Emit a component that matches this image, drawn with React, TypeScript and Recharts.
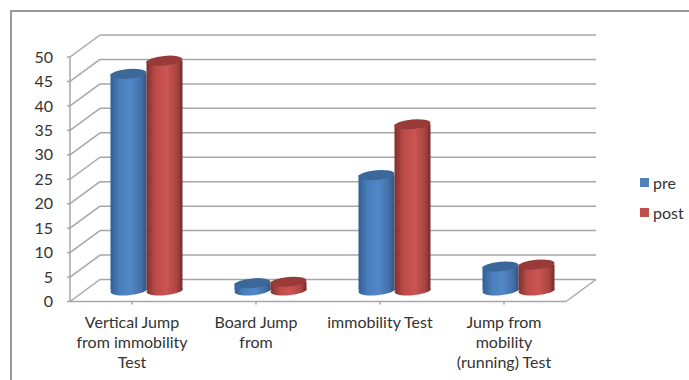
import { BarChart, Bar, XAxis, YAxis, CartesianGrid, Legend } from 'recharts';

const categories = ['Vertical Jump from immobility Test', 'Board Jump from', 'immobility Test', 'Jump from mobility (running) Test'];
const categoryLines = [
  ['Vertical Jump', 'from immobility', 'Test'],
  ['Board Jump', 'from'],
  ['immobility Test'],
  ['Jump from', 'mobility', '(running) Test'],
];
const preValues = [44.3, 1.5, 23.6, 4.9];
const postValues = [47, 1.8, 34, 5.3];
const yTicks = [0, 5, 10, 15, 20, 25, 30, 35, 40, 45, 50];

const rows = categories.map((name, i) => ({ name, pre: preValues[i], post: postValues[i] }));

const FONT = 'Lato, sans-serif';
const TEXT = '#333333';
const LINE = '#a6a6a6';
// depth of the fake 3D floor
const DEPTH_X = 30;
const DEPTH_Y = 22;

// side wall diagonal + back wall line for each value
function WallLine(props: any) {
  const { x1, x2, y1 } = props;
  return (
    <g fill="none" stroke={LINE} strokeWidth={1.5}>
      <line x1={x1} y1={y1} x2={x1 + DEPTH_X} y2={y1 - DEPTH_Y} />
      <line x1={x1 + DEPTH_X} y1={y1 - DEPTH_Y} x2={x2 + DEPTH_X} y2={y1 - DEPTH_Y} />
      {y1 > 295 && <line x1={x2} y1={y1} x2={x2 + DEPTH_X} y2={y1 - DEPTH_Y} />}
    </g>
  );
}

function Cylinder(props: any) {
  const { x, y, width, height, gradient, cap } = props;
  const cx = x + width / 2 + DEPTH_X / 2 - 0.5;
  const top = y - DEPTH_Y / 2;
  const bottom = top + height;
  const rx = width / 2;
  const ry = 4.8;
  return (
    <g>
      <ellipse cx={cx} cy={bottom} rx={rx} ry={ry} fill={`url(#${gradient})`} transform={`rotate(-5 ${cx} ${bottom})`} />
      <rect x={cx - rx} y={top} width={width} height={height} fill={`url(#${gradient})`} />
      <ellipse cx={cx} cy={top} rx={rx} ry={ry} fill={cap} transform={`rotate(-5 ${cx} ${top})`} />
    </g>
  );
}

function CategoryTick(props: any) {
  const { x, index } = props;
  return (
    <text x={x} textAnchor="middle" fontFamily={FONT} fontSize={16} fill={TEXT}>
      {categoryLines[index].map((line, i) => (
        <tspan key={line} x={x} y={328 + i * 20}>{line}</tspan>
      ))}
    </text>
  );
}

function LegendList() {
  const items = [['pre', '#4f81bd'], ['post', '#c0504d']];
  return (
    <div style={{ fontFamily: FONT, fontSize: 16, color: TEXT }}>
      {items.map(([label, color]) => (
        <div key={label} style={{ display: 'flex', alignItems: 'center', height: 20, marginBottom: 10 }}>
          <span style={{ width: 9, height: 9, background: color, marginRight: 4 }} />
          {label}
        </div>
      ))}
    </div>
  );
}

export default function App() {
  return (
    <div style={{ position: 'absolute', left: 0, top: 0, width: 689, height: 380, background: '#fff' }}>
      <div style={{ position: 'absolute', left: 10, top: 10, width: 679, height: 370, borderTop: '2px solid #999999', borderLeft: '2px solid #999999' }} />
      <BarChart
        width={689}
        height={380}
        data={rows}
        margin={{ top: 57, right: 74, bottom: 48.5, left: 0 }}
        barGap={0}
        barSize={36}
      >
        <defs>
          <linearGradient id="preBody" x1="0" y1="0" x2="1" y2="0">
            <stop offset="0" stopColor="#2f5f96" />
            <stop offset="0.25" stopColor="#4a7dba" />
            <stop offset="0.55" stopColor="#5288c9" />
            <stop offset="0.85" stopColor="#436fa6" />
            <stop offset="1" stopColor="#2f5685" />
          </linearGradient>
          <linearGradient id="postBody" x1="0" y1="0" x2="1" y2="0">
            <stop offset="0" stopColor="#7f2f2d" />
            <stop offset="0.25" stopColor="#bb4c49" />
            <stop offset="0.55" stopColor="#cc5552" />
            <stop offset="0.85" stopColor="#a94441" />
            <stop offset="1" stopColor="#752c2a" />
          </linearGradient>
        </defs>
        <CartesianGrid vertical={false} horizontal={(p: any) => <WallLine key={p.index} {...p} />} />
        <XAxis
          dataKey="name"
          interval={0}
          stroke={LINE}
          strokeWidth={1.5}
          tickSize={3}
          tick={(p: any) => <CategoryTick {...p} />}
        />
        <YAxis
          domain={[0, 50]}
          ticks={yTicks}
          interval={0}
          width={70}
          stroke={LINE}
          strokeWidth={1.5}
          tickSize={3}
          tickMargin={14}
          tick={{ fontFamily: FONT, fontSize: 16, fill: TEXT }}
        />
        <Legend layout="vertical" align="right" verticalAlign="top" wrapperStyle={{ left: 640, top: 172, width: 49 }} content={() => <LegendList />} />
        <Bar dataKey="pre" isAnimationActive={false} shape={(p: any) => <Cylinder {...p} gradient="preBody" cap="#3b6899" />} />
        <Bar dataKey="post" isAnimationActive={false} shape={(p: any) => <Cylinder {...p} gradient="postBody" cap="#973a38" />} />
      </BarChart>
    </div>
  );
}
